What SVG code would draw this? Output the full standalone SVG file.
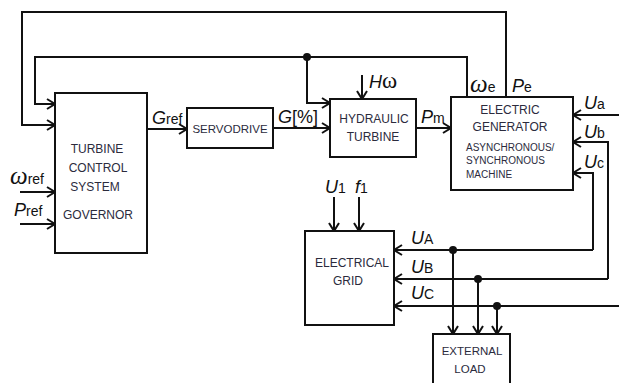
<svg xmlns="http://www.w3.org/2000/svg" width="619" height="383" viewBox="0 0 619 383">
<defs>
<marker id="ah" markerUnits="userSpaceOnUse" markerWidth="12" markerHeight="12" viewBox="-10 -6 12 12" refX="0" refY="0" orient="auto">
<polyline points="-8,-5 0,0 -8,5" fill="none" stroke="#111" stroke-width="2"/>
</marker>
</defs>
<style>
.box{fill:#fff;stroke:#111;stroke-width:2}
.ln{fill:none;stroke:#111;stroke-width:2}
.ar{fill:none;stroke:#111;stroke-width:2;marker-end:url(#ah)}
.bt{font-family:"Liberation Sans",Arial,sans-serif;font-size:12px;fill:#2b2b3d;text-anchor:middle}
.bs{font-family:"Liberation Sans",Arial,sans-serif;font-size:10px;fill:#2b2b3d}
.lb{font-family:"Liberation Sans",Arial,sans-serif;font-size:18px;fill:#111}
.i{font-style:italic}
.s{font-size:14px}
.w{font-family:"Liberation Serif","Times New Roman",serif;font-style:italic;font-size:25px}
.dot{fill:#111}
</style>
<rect width="619" height="383" fill="#fff"/>
<g id="connectors">
<path class="ar" d="M506,97 V12 H22 V125 H55"/>
<path class="ar" d="M467,97 V57 H35 V104 H55"/>
<path class="ar" d="M307,57 V103 H330"/>
<path class="ar" d="M147,129 H187"/>
<path class="ar" d="M273,128 H330"/>
<path class="ar" d="M362,75 V99"/>
<path class="ar" d="M416,128 H451"/>
<path class="ar" d="M619,115 H573"/>
<path class="ar" d="M608,279 V142 H573"/>
<path class="ar" d="M593,250 V173 H573"/>
<path class="ar" d="M593,250 H394"/>
<path class="ar" d="M608,279 H394"/>
<path class="ar" d="M619,306 H394"/>
<path class="ar" d="M453,250 V334"/>
<path class="ar" d="M478,279 V334"/>
<path class="ar" d="M497,306 V334"/>
<path class="ar" d="M20,192 H55"/>
<path class="ar" d="M20,224 H55"/>
<path class="ar" d="M334,197 V231"/>
<path class="ar" d="M359,197 V231"/>
<circle class="dot" cx="307" cy="57" r="4"/>
<circle class="dot" cx="453" cy="250" r="4"/>
<circle class="dot" cx="478" cy="279" r="4"/>
<circle class="dot" cx="497" cy="306" r="4"/>
</g>
<g id="tcs">
<rect class="box" x="55" y="93" width="92" height="160"/>
<text class="bt" x="97" y="153">TURBINE</text>
<text class="bt" x="98" y="172">CONTROL</text>
<text class="bt" x="95" y="191">SYSTEM</text>
<text class="bt" x="98" y="219">GOVERNOR</text>
</g>
<g id="servodrive">
<rect class="box" x="187" y="108" width="86" height="40"/>
<text class="bt" x="230" y="133" style="font-size:11.5px">SERVODRIVE</text>
</g>
<g id="hydraulic">
<rect class="box" x="330" y="99" width="86" height="58"/>
<text class="bt" x="374" y="123">HYDRAULIC</text>
<text class="bt" x="373" y="141">TURBINE</text>
</g>
<g id="generator">
<rect class="box" x="451" y="97" width="122" height="93"/>
<text class="bt" x="510" y="114">ELECTRIC</text>
<text class="bt" x="510" y="131">GENERATOR</text>
<text class="bs" x="466" y="151">ASYNCHRONOUS/</text>
<text class="bs" x="466" y="164">SYNCHRONOUS</text>
<text class="bs" x="466" y="178">MACHINE</text>
</g>
<g id="grid">
<rect class="box" x="305" y="231" width="89" height="94"/>
<text class="bt" x="352" y="267">ELECTRICAL</text>
<text class="bt" x="348" y="285">GRID</text>
</g>
<g id="load">
<rect class="box" x="433" y="334" width="77" height="60"/>
<text class="bt" x="472" y="355" style="font-size:11.5px">EXTERNAL</text>
<text class="bt" x="470" y="373" style="font-size:11.5px">LOAD</text>
</g>
<g id="labels">
<text class="lb" x="152" y="124"><tspan class="i">G</tspan><tspan class="s">ref</tspan></text>
<text class="lb" x="278" y="123"><tspan class="i">G</tspan>[%]</text>
<text class="lb" x="369" y="88"><tspan class="i">H</tspan><tspan style="font-family:'Liberation Serif',serif;font-size:23px">ω</tspan></text>
<text class="lb" x="421" y="123"><tspan class="i">P</tspan><tspan class="s">m</tspan></text>
<text class="lb" x="470" y="92"><tspan class="w">ω</tspan><tspan class="s">e</tspan></text>
<text class="lb" x="512" y="92"><tspan class="i">P</tspan><tspan class="s">e</tspan></text>
<text class="lb" x="584" y="109"><tspan class="i">U</tspan><tspan class="s">a</tspan></text>
<text class="lb" x="584" y="138"><tspan class="i">U</tspan><tspan class="s">b</tspan></text>
<text class="lb" x="584" y="168"><tspan class="i">U</tspan><tspan class="s">c</tspan></text>
<text class="lb" x="10" y="184"><tspan class="w">ω</tspan><tspan class="s">ref</tspan></text>
<text class="lb" x="14" y="216"><tspan class="i">P</tspan><tspan class="s">ref</tspan></text>
<text class="lb" x="325" y="193"><tspan class="i">U</tspan><tspan class="s">1</tspan></text>
<text class="lb" x="355" y="193"><tspan class="i">f</tspan><tspan class="s">1</tspan></text>
<text class="lb" x="411" y="244"><tspan class="i">U</tspan><tspan class="s">A</tspan></text>
<text class="lb" x="411" y="273"><tspan class="i">U</tspan><tspan class="s">B</tspan></text>
<text class="lb" x="411" y="299"><tspan class="i">U</tspan><tspan class="s">C</tspan></text>
</g>
</svg>
